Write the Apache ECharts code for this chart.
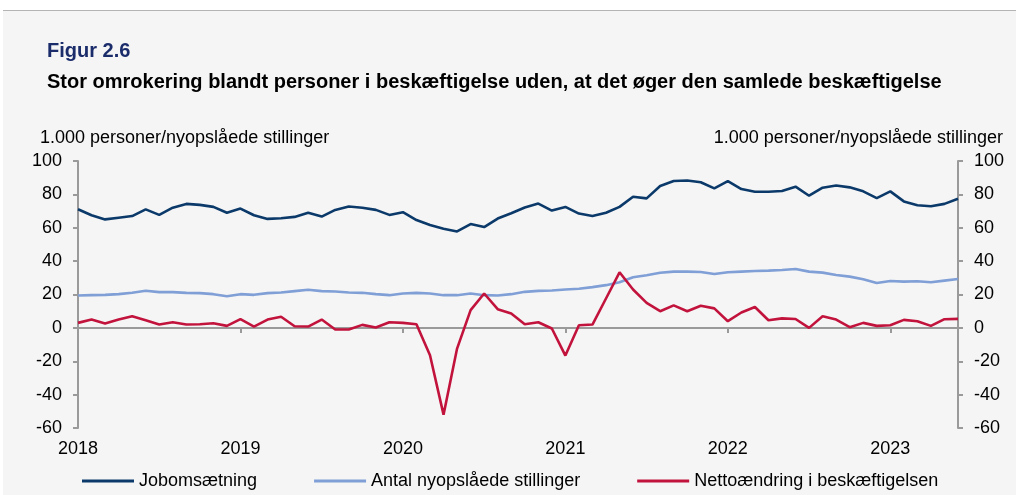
<!DOCTYPE html>
<html>
<head>
<meta charset="utf-8">
<script src="https://cdn.jsdelivr.net/npm/echarts@6/dist/echarts.min.js"></script>
<style>
html, body { margin: 0; padding: 0; background: #fff; }
#panel { position: absolute; left: 3px; top: 10px; width: 1013px; height: 485px; background: #f5f5f5; border-top: 1px solid #b4b4b4; }
#chart { position: absolute; left: 0; top: 0; width: 1016px; height: 495px; }
</style>
</head>
<body>
<div id="panel"></div>
<div id="chart"></div>
<script>
// månedlige tal, jan 2018 - jun 2023
const years = [2018, 2019, 2020, 2021, 2022, 2023]
const months = []
years.forEach(y => {
    for (let m = 1; m <= 12; m++) {
        if (y === 2023 && m > 6) break
        months.push(y + '-' + (m < 10 ? '0' + m : m))
    }
})

const jobomsaetning = [
    71.1, 67.5, 65, 66, 67, 71, 67.7, 72, 74.3, 73.7, 72.5, 69,
    71.5, 67.5, 65.3, 65.7, 66.5, 69, 66.7, 70.7, 72.7, 72, 70.7, 67.7,
    69.3, 64.6, 61.6, 59.4, 57.8, 62.2, 60.4, 65.5, 68.7, 72.1, 74.5, 70.3,
    72.5, 68.5, 67, 69, 72.5, 78.6, 77.6, 85, 88, 88.3, 87.3, 83.6,
    87.9, 83.2, 81.6, 81.6, 82, 84.6, 79.2, 84, 85.3, 84.2, 81.8, 77.8,
    81.8, 75.8, 73.5, 72.9, 74.3, 77.4
]
const nyopslaaede = [
    19.4, 19.6, 19.8, 20.2, 21, 22.2, 21.4, 21.4, 21, 20.8, 20.2, 19,
    20.2, 19.8, 20.8, 21.2, 22, 22.8, 22, 21.8, 21.2, 21, 20.2, 19.6,
    20.6, 21, 20.6, 19.6, 19.6, 20.6, 19.6, 19.4, 20.2, 21.6, 22.2, 22.4,
    23, 23.4, 24.4, 25.6, 27.3, 30.3, 31.5, 33, 33.7, 33.7, 33.5, 32.3,
    33.3, 33.7, 34.1, 34.3, 34.7, 35.3, 33.7, 33.1, 31.7, 30.7, 29.1, 26.9,
    28.1, 27.7, 27.9, 27.3, 28.3, 29.3
]
const nettoaendring = [
    3, 5, 2.6, 5, 7, 4.6, 2, 3.4, 2, 2.2, 2.8, 1.2,
    5.2, 0.8, 5, 6.7, 1, 0.8, 5, -1, -1, 1.8, 0.2, 3.4,
    3, 2.2, -16.4, -52, -12.4, 10.6, 20.6, 11.2, 8.6, 2.2, 3.4, -0.4,
    -16.6, 1.6, 2, 17.6, 33.3, 23, 15, 10, 13.5, 10, 13.3, 11.7,
    4, 9.2, 12.5, 4.6, 5.7, 5.3, 0, 7, 5, 0.4, 3, 1.2,
    1.6, 4.8, 4, 1.2, 5.2, 5.4
]

const font = 'Liberation Sans, Arial, sans-serif'
const axisGrey = '#9a9a9a'
const yName = '1.000 personer/nyopslåede stillinger'

let myChart = echarts.init(document.getElementById('chart'))
let option

const yAxisBase = (pos) => ({
    type: 'value',
    position: pos,
    min: -60,
    max: 100,
    interval: 20,
    axisLine: { show: true, onZero: false, lineStyle: { color: axisGrey, width: 2 } },
    axisTick: { show: true, length: 5, lineStyle: { color: axisGrey, width: 2 } },
    axisLabel: { fontSize: 18, color: '#000', fontFamily: font, margin: 16 },
    splitLine: { show: false }
})

option = {
    animation: false,
    title: {
        text: 'Figur 2.6',
        subtext: 'Stor omrokering blandt personer i beskæftigelse uden, at det øger den samlede beskæftigelse',
        left: 47,
        top: 41,
        padding: 0,
        itemGap: 11,
        textStyle: { fontSize: 20, fontWeight: 'bold', color: '#1b2c6b', fontFamily: font },
        subtextStyle: { fontSize: 20, fontWeight: 'bold', color: '#000', fontFamily: font }
    },
    graphic: [
        { type: 'text', left: 40, top: 129, style: { text: yName, fontSize: 18, fill: '#000', fontFamily: font } },
        { type: 'text', right: 13, top: 129, style: { text: yName, fontSize: 18, fill: '#000', fontFamily: font } }
    ],
    legend: {
        left: 82,
        top: 472,
        padding: 0,
        icon: 'rect',
        itemWidth: 52,
        itemHeight: 3,
        itemGap: 57,
        textStyle: { fontSize: 18, color: '#000', fontFamily: font },
        data: ['Jobomsætning', 'Antal nyopslåede stillinger', 'Nettoændring i beskæftigelsen']
    },
    grid: { left: 78, right: 58, top: 161, bottom: 67, containLabel: false, outerBoundsMode: 'none' },
    xAxis: {
        type: 'category',
        data: months,
        boundaryGap: false,
        axisLine: { onZero: true, lineStyle: { color: axisGrey, width: 2 } },
        axisTick: { interval: (i) => i % 12 === 0, length: 5, lineStyle: { color: axisGrey, width: 2 } },
        axisLabel: {
            interval: (i) => i % 12 === 0,
            formatter: (v) => v.slice(0, 4),
            fontSize: 18,
            color: '#000',
            fontFamily: font,
            margin: 12
        }
    },
    yAxis: [yAxisBase('left'), yAxisBase('right')],
    series: [
        {
            name: 'Jobomsætning',
            type: 'line',
            data: jobomsaetning,
            symbol: 'none',
            lineStyle: { color: '#0b3a6a', width: 2.6 },
            itemStyle: { color: '#0b3a6a' }
        },
        {
            name: 'Antal nyopslåede stillinger',
            type: 'line',
            data: nyopslaaede,
            symbol: 'none',
            lineStyle: { color: '#7f9fd6', width: 2.6 },
            itemStyle: { color: '#7f9fd6' }
        },
        {
            name: 'Nettoændring i beskæftigelsen',
            type: 'line',
            data: nettoaendring,
            symbol: 'none',
            lineStyle: { color: '#c2133d', width: 2.6 },
            itemStyle: { color: '#c2133d' }
        }
    ]
}

option && myChart.setOption(option)
</script>
</body>
</html>
